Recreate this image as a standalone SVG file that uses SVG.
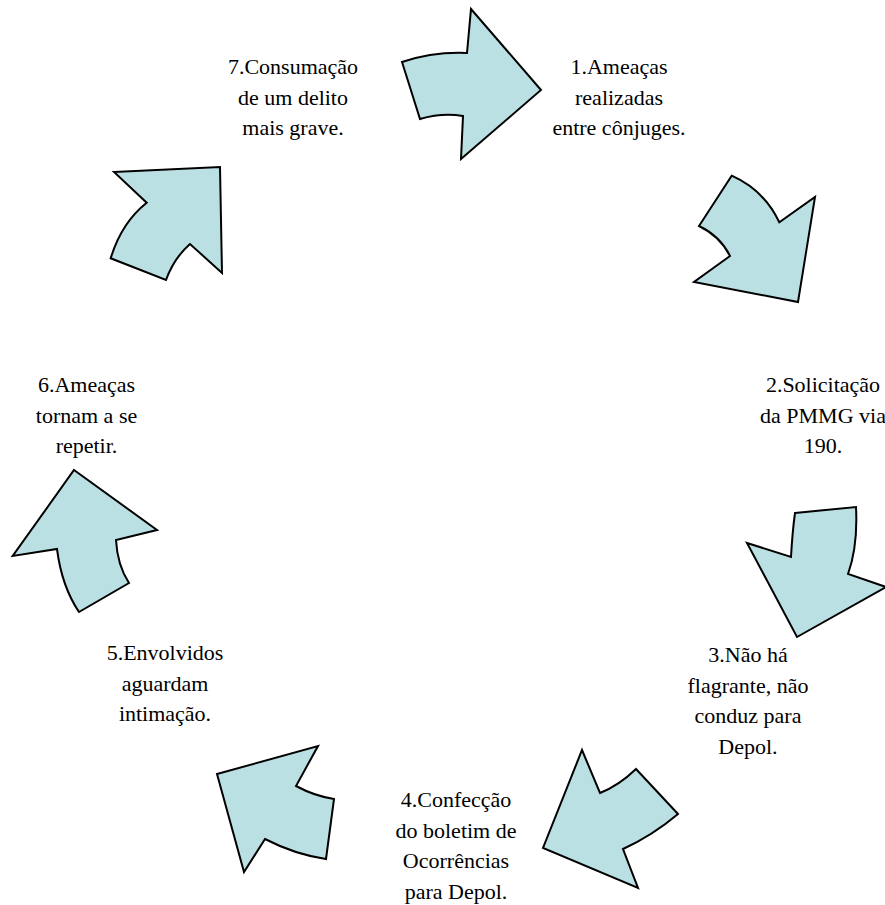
<svg xmlns="http://www.w3.org/2000/svg" width="885" height="905" viewBox="0 0 885 905">
<style>
.arrow{fill:#BBE0E3;stroke:#000;stroke-width:2;stroke-linejoin:miter}
text{font-family:'Liberation Serif','DejaVu Serif',serif;font-size:22px;fill:#000;text-anchor:middle}
</style>
<rect width="885" height="905" fill="#fff"/>
<g id="connectors">
<path class="arrow" d="M402,62 Q433.5,51.5 467,53 L471,9 L541,90 L461,159 L463,116 Q442,112.5 420,119 Z"/>
<path class="arrow" d="M731.7,175.7 Q764,190 779.3,222.3 L815,197 L798,302 L694,282 L730,256 Q720,236 699,226 Z"/>
<path class="arrow" d="M795,513 L856,507 Q858,546 848,574 L886,587 L797,637 L747,543 L791,557 Q792.4,531.7 795,513 Z"/>
<path class="arrow" d="M582,750 L600,793 Q618.6,785.7 636,769 L678,814 Q653,835.2 623,849 L638,888 L543,848 Z"/>
<path class="arrow" d="M217,774 L318,746 L296,786 Q315,796.2 334,799 L326,859 Q294.5,854.3 265,839 L244,872 Z"/>
<path class="arrow" d="M74,470 L157,530 L116,540 Q117.4,565.3 129,583 L79,612 Q61.7,586.2 57,549 L12.7,556 Z"/>
<path class="arrow" d="M114,172 L220,167 L222,273 L190,244 Q174,258 166,280 L110.7,258.3 Q121.3,222.9 146.7,202.7 Z"/>
</g>
<g id="node1"><text font-family="Liberation Serif, DejaVu Serif, serif"><tspan x="619" y="74">1.Ameaças</tspan><tspan x="619" y="104.5">realizadas</tspan><tspan x="619" y="135">entre cônjuges.</tspan></text></g>
<g id="node2"><text font-family="Liberation Serif, DejaVu Serif, serif"><tspan x="823" y="392">2.Solicitação</tspan><tspan x="823" y="422.5">da PMMG via</tspan><tspan x="823" y="453">190.</tspan></text></g>
<g id="node3"><text font-family="Liberation Serif, DejaVu Serif, serif"><tspan x="748" y="662">3.Não há</tspan><tspan x="748" y="692.5">flagrante, não</tspan><tspan x="748" y="723">conduz para</tspan><tspan x="748" y="753.5">Depol.</tspan></text></g>
<g id="node4"><text font-family="Liberation Serif, DejaVu Serif, serif"><tspan x="456" y="807">4.Confecção</tspan><tspan x="456" y="837.5">do boletim de</tspan><tspan x="456" y="868">Ocorrências</tspan><tspan x="456" y="898.5">para Depol.</tspan></text></g>
<g id="node5"><text font-family="Liberation Serif, DejaVu Serif, serif"><tspan x="165" y="660">5.Envolvidos</tspan><tspan x="165" y="690.5">aguardam</tspan><tspan x="165" y="721">intimação.</tspan></text></g>
<g id="node6"><text font-family="Liberation Serif, DejaVu Serif, serif"><tspan x="86.5" y="392">6.Ameaças</tspan><tspan x="86.5" y="422.5">tornam a se</tspan><tspan x="86.5" y="453">repetir.</tspan></text></g>
<g id="node7"><text font-family="Liberation Serif, DejaVu Serif, serif"><tspan x="293" y="74">7.Consumação</tspan><tspan x="293" y="104.5">de um delito</tspan><tspan x="293" y="135">mais grave.</tspan></text></g>
</svg>
